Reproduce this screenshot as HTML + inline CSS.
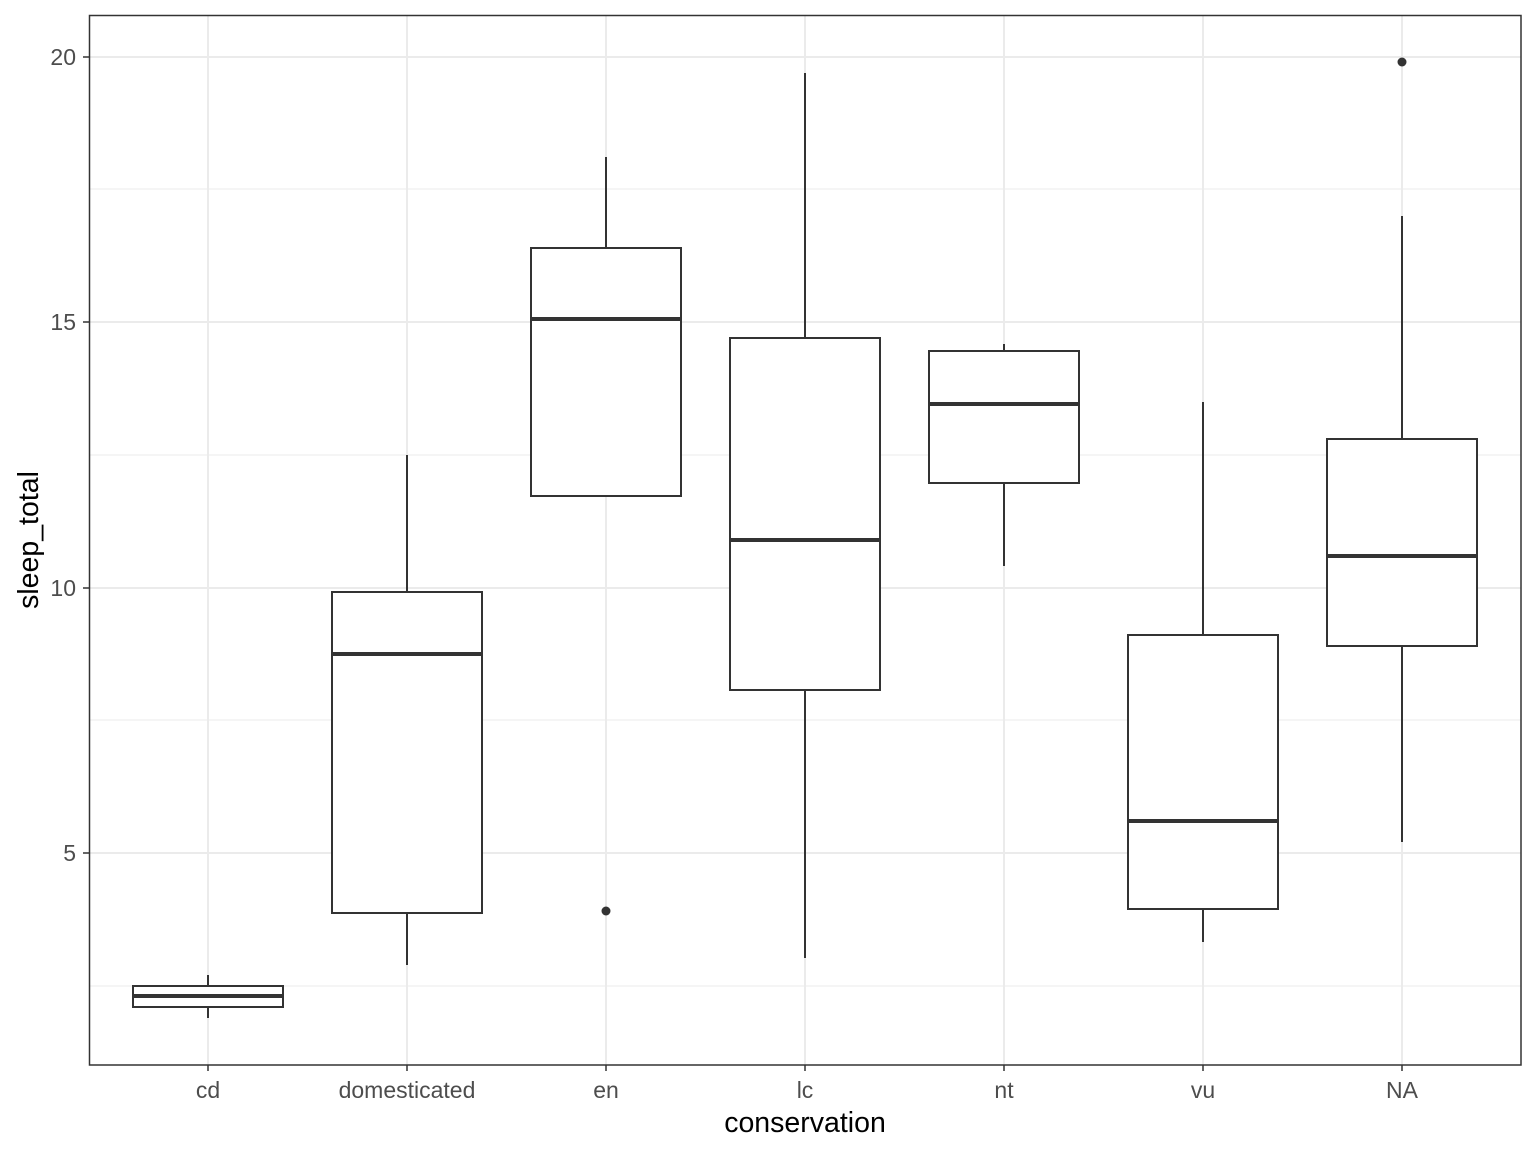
<!DOCTYPE html>
<html><head><meta charset="utf-8"><style>html,body{margin:0;padding:0;background:#fff}</style></head>
<body>
<svg width="1536" height="1152" viewBox="0 0 1536 1152" xmlns="http://www.w3.org/2000/svg" font-family="Liberation Sans, sans-serif">
<rect width="1536" height="1152" fill="#fff"/>
<g stroke="#ebebeb" stroke-width="1">
<line x1="89" x2="1521" y1="189" y2="189"/><line x1="89" x2="1521" y1="455" y2="455"/>
<line x1="89" x2="1521" y1="720" y2="720"/><line x1="89" x2="1521" y1="986" y2="986"/>
</g>
<g stroke="#ebebeb" stroke-width="2">
<line x1="89" x2="1521" y1="57" y2="57"/><line x1="89" x2="1521" y1="322" y2="322"/>
<line x1="89" x2="1521" y1="588" y2="588"/><line x1="89" x2="1521" y1="853" y2="853"/>
<line y1="15" y2="1065" x1="208" x2="208"/><line y1="15" y2="1065" x1="407" x2="407"/>
<line y1="15" y2="1065" x1="606" x2="606"/><line y1="15" y2="1065" x1="805" x2="805"/>
<line y1="15" y2="1065" x1="1004" x2="1004"/><line y1="15" y2="1065" x1="1203" x2="1203"/>
<line y1="15" y2="1065" x1="1402" x2="1402"/>
</g>
<g stroke="#333" stroke-width="2" fill="#fff">
<line x1="208" x2="208" y1="975" y2="1018"/><rect x="133" y="986" width="150" height="21"/><line x1="133" x2="283" y1="996" y2="996" stroke-width="4"/>
<line x1="407" x2="407" y1="455" y2="965"/><rect x="332" y="592" width="150" height="321"/><line x1="332" x2="482" y1="654" y2="654" stroke-width="4"/>
<line x1="606" x2="606" y1="157" y2="248"/><rect x="531" y="248" width="150" height="248"/><line x1="531" x2="681" y1="319" y2="319" stroke-width="4"/>
<line x1="805" x2="805" y1="73" y2="958"/><rect x="730" y="338" width="150" height="352"/><line x1="730" x2="880" y1="540" y2="540" stroke-width="4"/>
<line x1="1004" x2="1004" y1="344" y2="566"/><rect x="929" y="351" width="150" height="132"/><line x1="929" x2="1079" y1="404" y2="404" stroke-width="4"/>
<line x1="1203" x2="1203" y1="402" y2="942"/><rect x="1128" y="635" width="150" height="274"/><line x1="1128" x2="1278" y1="821" y2="821" stroke-width="4"/>
<line x1="1402" x2="1402" y1="216" y2="842"/><rect x="1327" y="439" width="150" height="207"/><line x1="1327" x2="1477" y1="556" y2="556" stroke-width="4"/>
</g>
<circle cx="606" cy="911" r="4.5" fill="#333"/><circle cx="1402" cy="62" r="4.5" fill="#333"/>
<rect x="89.5" y="15.5" width="1431.5" height="1049.5" fill="none" stroke="#333" stroke-width="1.5"/>
<g stroke="#333" stroke-width="1.5">
<line x1="83" x2="89" y1="57" y2="57"/><line x1="83" x2="89" y1="322" y2="322"/><line x1="83" x2="89" y1="588" y2="588"/><line x1="83" x2="89" y1="853" y2="853"/>
<line y1="1065" y2="1071" x1="208" x2="208"/><line y1="1065" y2="1071" x1="407" x2="407"/><line y1="1065" y2="1071" x1="606" x2="606"/><line y1="1065" y2="1071" x1="805" x2="805"/><line y1="1065" y2="1071" x1="1004" x2="1004"/><line y1="1065" y2="1071" x1="1203" x2="1203"/><line y1="1065" y2="1071" x1="1402" x2="1402"/>
</g>
<g fill="#4d4d4d" font-size="23" text-anchor="end">
<text x="76" y="65">20</text><text x="76" y="330">15</text><text x="76" y="596">10</text><text x="76" y="861">5</text>
</g>
<g fill="#4d4d4d" font-size="23" text-anchor="middle">
<text x="208" y="1098">cd</text><text x="407" y="1098">domesticated</text><text x="606" y="1098">en</text><text x="805" y="1098">lc</text><text x="1004" y="1098">nt</text><text x="1203" y="1098">vu</text><text x="1402" y="1098">NA</text>
</g>
<text x="805" y="1132" font-size="28.5" text-anchor="middle" fill="#000">conservation</text>
<text transform="translate(38,540) rotate(-90)" font-size="28.5" text-anchor="middle" fill="#000">sleep_total</text>
</svg>
</body></html>
